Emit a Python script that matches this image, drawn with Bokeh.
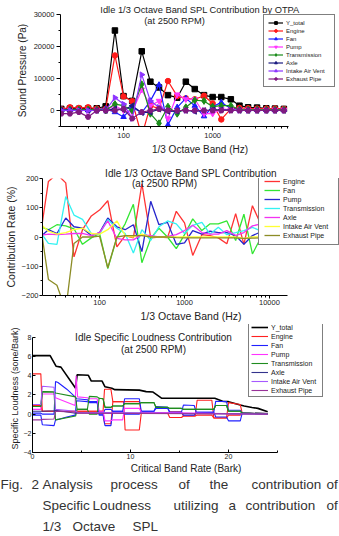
import numpy as np
from bokeh.plotting import figure
from bokeh.models import Range1d, FixedTicker, BasicTickFormatter, Legend, LegendItem, Label
from bokeh.layouts import column
from bokeh.embed import file_html
from bokeh.resources import INLINE
from bokeh.core.properties import value

FONT = "Liberation Sans"
TXT = "#222222"

# ---------------- data: plot 1 (sound pressure, Pa) ----------------
freq1 = [20, 25, 31.5, 40, 50, 63, 80, 100, 125, 160, 200, 250, 315, 400, 500, 630,
         800, 1000, 1250, 1600, 2000, 2500, 3150, 4000, 5000, 6300]
sp_total = [500, 600, 500, 600, 700, 1300, 25000, 4500, 3000, 18500, 9000, 7200, 4800, 4000,
            9000, 6700, 4800, 4200, 4200, 3500, 1500, 1000, 900, 700, 600, 500]
sp_engine = [400, 1000, 800, 1000, 600, 500, 17200, 4400, 2900, -8000, 1500, 600, 9200, 4500,
             3800, 3500, 4600, 2200, -2800, 500, 800, 700, 600, 600, 600, 500]
sp_fan = [200, 300, 200, 100, 300, 500, -500, -2000, 1000, -700, 3000, 8000, -4500, 1000,
          3800, 1500, -1800, 1200, 2500, 600, 300, 200, 200, 200, 200, 200]
sp_pump = [0, 0, 0, 0, 0, 0, 1500, 0, -500, 6500, 1500, 3000, -2500, 5000,
           3500, 3500, -1000, -1000, 500, 200, 200, 100, 100, 100, 100, 100]
sp_trans = [0, 200, 200, 300, 200, 0, 2000, 1500, 0, 8200, -1000, -4000, 1200, -1000,
            1000, 3200, 3000, 1200, 1500, 1500, 300, 200, 200, 200, 200, 200]
sp_axle = [0, 0, 0, 0, 0, 0, 500, 200, 1500, -700, -500, 400, -300, -200,
           0, -300, 0, 200, 200, 100, 0, 0, 0, 0, 0, 0]
sp_intake = [0, 0, 0, 0, 0, 0, 4000, 2000, -2500, 11200, 3000, 1000, 0, 0,
             0, 0, 0, 0, 0, 0, 0, 0, 0, 0, 0, 0]
sp_exhaust = [-1000, -1000, -500, -2000, 0, 0, 0, 500, -2500, -500, 0, 500, 0, 0,
              0, 0, 0, 0, 0, 0, 0, 0, 0, 0, 0, 0]

# ---------------- data: plot 2 (contribution rate, %) ----------------
freq2 = [20, 25, 31.5, 40, 50, 63, 80, 100, 125, 160, 200, 250, 315, 400, 500, 630,
         800, 1000, 1250, 1600, 2000, 2500, 3150, 4000, 5000, 6300, 8000]
cr_engine = [0, 190, 215, 185, -68, 25, 72, 92, 124, -34, 5, -3, 182, -3, 0, -2,
             88, 48, -63, 8, 5, -3, -23, 80, -25, 107, 40]
cr_fan = [35, 25, 42, 38, 28, -25, -3, 12, -108, -2, 45, 112, -88, -5, 30, 0,
          -40, 8, 62, 22, 45, 45, 55, -12, 78, -58, 0]
cr_pump = [0, 25, 12, 65, 35, 30, 5, 15, 65, 35, 25, 42, -50, 122, 42, 50,
           -25, -20, 22, 10, 20, 15, 15, 5, -25, 5, 18]
cr_trans = [18, -22, -25, 138, 75, 60, 12, 10, 60, 30, 12, -55, 25, -12, 35, 55,
            45, 12, 40, 50, 10, 33, 8, 15, 22, 33, 20]
cr_axle = [5, 10, 8, 10, 12, 12, 5, 15, 55, -5, -10, -10, 8, 5, 0, 2,
           8, 22, 40, 15, 10, 10, 22, 5, 15, 38, 45]
cr_intake = [45, 20, 10, 15, 25, 30, 12, 10, 25, 55, 5, 0, 10, 0, 0, 0,
             0, 0, 0, 0, 0, 0, 0, 0, -5, 0, 0]
cr_exhaust = [50, -145, -165, -250, -22, 0, 0, 3, -105, 0, 5, 5, 5, 0, 0, 0,
              -2, -3, -3, -3, -3, -3, -3, -3, -5, -4, -3]

# ---------------- data: plot 3 (specific loudness, sone/Bark) ----------------
bark_total = [0, 1.8, 2.4, 2.9, 4.4, 4.55, 5.7, 6.0, 7.1, 7.4, 8.1, 8.4, 10.9, 11.6, 12.3,
              13.2, 18.6, 19.4, 20.0, 21.2, 21.6, 22.4, 23.0, 24.0]
sl_total = [6.1, 6.1, 5.0, 4.9, 2.7, 4.1, 4.05, 3.45, 3.45, 2.85, 2.7, 2.55, 2.5, 2.35, 2.3,
            1.65, 1.65, 1.35, 1.3, 0.95, 0.85, 0.7, 0.6, 0.25]
bark_engine = [0, 0.85, 1.0, 7.2, 7.35, 8.0, 8.2, 9.3, 9.45, 10.9, 11.1, 13.8, 14.0, 15.2,
               15.4, 16.6, 16.8, 18.3, 18.5, 19.8, 20.0, 21.2, 21.4, 24]
sl_engine_hi = [4.2, 4.2, 0.3, 0.3, 2.6, 2.6, 1.3, 1.3, 1.3, 1.3, 0.1, 0.1, 0.25, 0.25,
                -0.2, -0.2, 1.45, 1.45, -0.4, -0.4, 1.2, 1.0, 0.1, 0.05]
sl_engine_lo = [0.9, 0.9, 0.3, 0.3, -1.0, -1.0, 1.3, 1.3, -1.65, -1.65, 0.1, 0.1, -0.35, -0.35,
                -0.2, -0.2, -0.1, -0.1, -0.4, -0.4, -0.1, -0.1, 0.1, 0.05]
bark_fan = [0, 0.85, 1.0, 2.2, 2.35, 2.6, 3.5, 4.35, 4.5, 5.6, 5.8, 6.6, 6.8, 7.2, 7.4, 8.0,
            8.2, 9.2, 9.4, 10.9, 11.1, 12.4, 12.6, 13.8, 14.0, 15.2, 15.4, 16.5, 16.7, 18.5,
            18.7, 19.8, 20.0, 21.2, 21.4, 24]
sl_fan_hi = [0.1, 0.1, 0.0, 0.0, 3.4, 3.3, 2.6, 1.8, 1.6, 1.5, 1.3, 1.3, 0.0, 0.0, 0.5, 0.5,
             0.3, 0.3, 1.6, 1.6, 0.3, 0.3, 0.8, 0.7, 0.2, 0.2, 0.95, 0.9, 0.2, 0.2,
             1.35, 1.3, 0.4, 0.4, 0.1, 0.05]
sl_fan_lo = [-0.1, -0.1, -1.1, -1.2, -0.6, -0.55, -0.3, -0.1, 1.4, 1.3, 1.2, 1.2, -0.1, -0.1, -1.2, -1.2,
             0.3, 0.3, 0.0, 0.0, 0.3, 0.3, 0.6, 0.6, 0.2, 0.2, -0.1, -0.1, 0.2, 0.2,
             -0.3, -0.3, -0.7, -0.7, 0.1, 0.05]
bark_pump = [0, 0.85, 1.0, 2.2, 2.35, 4.35, 4.45, 4.6, 5.6, 5.8, 6.6, 6.8, 7.2, 7.4, 8.0,
             8.2, 9.2, 9.4, 10.9, 11.1, 24]
sl_pump = [0.5, 0.5, 2.1, 2.1, 1.7, 0.9, 4.0, 1.8, 1.7, 1.6, 1.6, 0.3, 0.3, -0.7, -0.7,
           -0.6, -0.6, 0.6, 0.6, 0.2, 0.0]
bark_trans = [0, 0.85, 1.0, 2.2, 2.35, 4.4, 4.55, 5.6, 5.8, 6.6, 6.8, 7.2, 7.4, 8.0, 8.2, 9.2,
              9.4, 10.9, 11.1, 12.4, 12.6, 13.8, 14.0, 15.2, 15.4, 18.5, 18.7, 19.8, 20.0,
              21.2, 21.4, 24]
sl_trans_hi = [0.8, 0.8, 2.35, 2.3, 2.2, 1.8, 0.5, 0.5, 1.85, 1.8, 1.65, 1.6, 0.7, 0.7, 0.85, 0.85,
               1.1, 1.1, 1.2, 1.2, 0.7, 0.7, 0.6, 0.6, 0.5, 0.5, 0.9, 0.9, 0.3, 0.3, 0.1, 0.05]
sl_trans_lo = [0.8, 0.8, 2.35, 2.3, -0.6, -0.2, 0.5, 0.5, 0.0, 0.0, 1.65, 1.6, 0.7, 0.7, 0.85, 0.85,
               1.1, 1.1, 1.2, 1.2, 0.7, 0.7, 0.6, 0.6, 0.5, 0.5, 0.9, 0.9, 0.3, 0.3, 0.1, 0.05]
bark_axle = [0, 0.85, 1.0, 2.2, 2.35, 4.4, 4.6, 24]
sl_axle = [0.3, 0.3, 0.3, 0.35, 0.4, 0.1, 0.15, 0.0]
bark_intake = [0, 0.85, 1.0, 2.2, 2.35, 4.4, 4.6, 24]
sl_intake = [1.0, 1.0, 2.9, 2.8, 0.5, 0.3, 0.2, 0.0]
bark_exhaust = [0, 0.85, 1.0, 2.2, 2.35, 4.4, 4.6, 24]
sl_exhaust = [-0.6, -0.6, -0.55, -0.5, 0.3, 0.2, 0.1, 0.0]

names1 = ["Y_total", "Engine", "Fan", "Pump", "Transmission", "Axle", "Intake Air Vent", "Exhaust Pipe"]
names2 = ["Engine", "Fan", "Pump", "Transmission", "Axle", "Intake Air Vent", "Exhaust Pipe"]


def lin(px, p0, p1, v0, v1):
    return v0 + (px - p0) / (p1 - p0) * (v1 - v0)


def logmap(px, p0, p1, v0, v1):
    return 10 ** lin(px, p0, p1, np.log10(v0), np.log10(v1))


def no_align(p):
    if "frame_align" in p.properties():
        p.frame_align = False


def style(p, tick_fs, label_fs):
    p.outline_line_color = None
    p.grid.visible = False
    p.background_fill_color = "white"
    p.border_fill_color = "white"
    no_align(p)
    for ax in p.axis:
        ax.axis_line_color = "black"
        ax.major_tick_line_color = "black"
        ax.minor_tick_line_color = "black"
        ax.major_label_text_font = FONT
        ax.major_label_text_font_size = tick_fs
        ax.major_label_text_color = TXT
        ax.axis_label_text_font = FONT
        ax.axis_label_text_font_size = label_fs
        ax.axis_label_text_font_style = "normal"
        ax.axis_label_text_color = TXT


def head(p, text, fs, offset):
    # first title line, drawn in the panel above the frame
    p.title.text = text
    p.title.align = "center"
    p.title.offset = offset
    p.title.standoff = 0
    p.title.text_font = FONT
    p.title.text_font_size = fs
    p.title.text_font_style = "normal"
    p.title.text_color = TXT


def title(p, x, y, text, fs):
    p.add_layout(Label(x=x, y=y, text=text, text_align="center", text_baseline="middle",
                       text_font=FONT, text_font_size=fs, text_color=TXT))


def legend(p, items, loc, fs, lh, pad, gw, lw):
    lg = Legend(items=items, location=loc, orientation="vertical",
                label_text_font=FONT, label_text_font_size=fs, label_text_color=TXT,
                label_height=lh, glyph_height=lh, glyph_width=gw, label_width=lw,
                spacing=1, padding=pad, margin=0, label_standoff=3,
                border_line_color="black", border_line_width=1,
                background_fill_color="white", background_fill_alpha=1.0)
    p.add_layout(lg)


# ================= Plot 1 =================
X1 = (19.6, 7100)
Y1 = (-5000, 30000)
AX1L, AX1R, AX1T, AX1B = 60, 288, 14, 126
H1 = 160
# frame extended to the right edge so that the legend is not clipped
X1f = (X1[0], logmap(339, AX1L, AX1R, *X1))
p1 = figure(width=339, height=H1, x_axis_type="log", x_range=Range1d(*X1f), y_range=Range1d(*Y1),
            output_backend="svg", toolbar_location=None,
            min_border_left=AX1L, min_border_right=0, min_border_top=AX1T, min_border_bottom=H1 - AX1B)
style(p1, "7.5px", "10px")
head(p1, "Idle 1/3 Octave Band SPL Contribution by OTPA", "9.3px", 174 - (AX1L + 339) / 2)
p1.xaxis.axis_label = "1/3 Octave Band (Hz)"
p1.yaxis.axis_label = "Sound Pressure (Pa)"
p1.xaxis.bounds = X1
p1.yaxis.bounds = Y1
p1.xaxis.ticker = FixedTicker(ticks=[100, 1000],
                              minor_ticks=[30, 40, 50, 60, 70, 80, 90, 200, 300, 400, 500, 600, 700,
                                           800, 900, 2000, 3000, 4000, 5000, 6000, 7000])
p1.xaxis.formatter = BasicTickFormatter(use_scientific=False)
p1.yaxis.ticker = FixedTicker(ticks=[0, 10000, 20000, 30000], minor_ticks=[-5000, 5000, 15000, 25000])
p1.yaxis.formatter = BasicTickFormatter(use_scientific=False)
for ax in p1.axis:
    ax.major_tick_out = 4
    ax.major_tick_in = 0
    ax.minor_tick_out = 2
    ax.minor_tick_in = 0
    ax.major_label_standoff = 2
    ax.axis_label_standoff = 3

series1 = [sp_total, sp_engine, sp_fan, sp_pump, sp_trans, sp_axle, sp_intake, sp_exhaust]
colors1 = ["black", "#ff1a1a", "#1a1aff", "#ff33ff", "#1a8c1a", "#1a1a80", "#8c33ff", "#801a80"]
markers1 = ["square", "circle", "triangle", "inverted_triangle", "diamond", "triangle", "triangle", "hex"]
angles1 = [0, 0, 0, 0, 0, np.pi / 2, -np.pi / 2, 0]
items1 = []
for name, ys, c, m, a in zip(names1, series1, colors1, markers1, angles1):
    lr = p1.line(freq1, ys, line_color=c, line_width=1.2)
    sr = p1.scatter(freq1, ys, marker=m, size=5.5 if m != "diamond" else 7, angle=a,
                    fill_color=c, line_color=c)
    items1.append(LegendItem(label=name, renderers=[lr, sr]))
legend(p1, items1, (263 - AX1L, AX1B - 87), "6px", 7, 4, 15, 44)
title(p1, logmap(174, AX1L, AX1R, *X1), lin(20, AX1T, AX1B, Y1[1], Y1[0]), "(at 2500 RPM)", "9.3px")

# ================= Plot 2 =================
X2 = (21.3, 16300)
Y2 = (-200, 200)
OFF2, H2 = 160, 164
AX2L, AX2R, AX2T, AX2B = 42, 287, 178 - OFF2, 296 - OFF2
X2f = (X2[0], logmap(339, AX2L, AX2R, *X2))
p2 = figure(width=339, height=H2, x_axis_type="log", x_range=Range1d(*X2f), y_range=Range1d(*Y2),
            output_backend="svg", toolbar_location=None,
            min_border_left=AX2L, min_border_right=0, min_border_top=AX2T, min_border_bottom=H2 - AX2B)
style(p2, "7.5px", "10.5px")
head(p2, "Idle 1/3 Octave Band SPL Contribution", "10px", 164 - (AX2L + 339) / 2)
p2.xaxis.axis_label = "1/3 Octave Band (Hz)"
p2.yaxis.axis_label = "Contribution Rate (%)"
p2.xaxis.bounds = X2
p2.yaxis.bounds = Y2
p2.xaxis.ticker = FixedTicker(ticks=[100, 1000, 10000],
                              minor_ticks=[30, 40, 50, 60, 70, 80, 90, 200, 300, 400, 500, 600, 700,
                                           800, 900, 2000, 3000, 4000, 5000, 6000, 7000, 8000, 9000])
p2.xaxis.formatter = BasicTickFormatter(use_scientific=False)
p2.yaxis.ticker = FixedTicker(ticks=[-200, -100, 0, 100, 200], minor_ticks=[-150, -50, 50, 150])
p2.yaxis.formatter = BasicTickFormatter(use_scientific=False)
for ax in p2.axis:
    ax.major_tick_out = 3
    ax.major_tick_in = 0
    ax.minor_tick_out = 2
    ax.minor_tick_in = 0
    ax.major_label_standoff = 1
    ax.axis_label_standoff = 2

series2 = [cr_engine, cr_fan, cr_pump, cr_trans, cr_axle, cr_intake, cr_exhaust]
colors2 = ["#ff3333", "#33e633", "#2626cc", "#33f2f2", "#f233f2", "#ffff33", "#8c8c26"]
items2 = []
for name, ys, c in zip(names2, series2, colors2):
    r = p2.line(freq2, ys, line_color=c, line_width=1.3)
    items2.append(LegendItem(label=name, renderers=[r]))
legend(p2, items2, (258 - AX2L, AX2B + OFF2 - 246), "7px", 8, 5, 16, 50)
title(p2, logmap(164, AX2L, AX2R, *X2), lin(183 - OFF2, AX2T, AX2B, Y2[1], Y2[0]), "(at 2500 RPM)", "10px")

# ================= Plot 3 =================
X3 = (0, 25)
Y3 = (-4, 8)
OFF3, H3 = 324, 152
AX3L, AX3R, AX3T, AX3B = 32, 277, 337 - OFF3, 453 - OFF3
X3f = (X3[0], lin(339, AX3L, AX3R, *X3))
Y3f = (Y3[0], lin(0, AX3T, AX3B, Y3[1], Y3[0]))
p3 = figure(width=339, height=H3, x_range=Range1d(*X3f), y_range=Range1d(*Y3f),
            output_backend="svg", toolbar_location=None,
            min_border_left=AX3L, min_border_right=0, min_border_top=0, min_border_bottom=H3 - AX3B)
style(p3, "7px", "10px")
p3.yaxis.axis_label_text_font_size = "9px"
p3.xaxis.axis_label = "Critical Band Rate (Bark)"
p3.yaxis.axis_label = "Specific Loudness (sone/Bark)"
p3.xaxis.bounds = X3
p3.yaxis.bounds = Y3
p3.xaxis.ticker = FixedTicker(ticks=[0, 10, 20], minor_ticks=[5, 15, 25])
p3.yaxis.ticker = FixedTicker(ticks=[-4, -2, 0, 2, 4, 6, 8], minor_ticks=[])
for ax in p3.axis:
    ax.major_tick_out = 0
    ax.major_tick_in = 3
    ax.minor_tick_out = 0
    ax.minor_tick_in = 2
    ax.major_label_standoff = 1
    ax.axis_label_standoff = 1

items3 = []
r = p3.line(bark_total, sl_total, line_color="black", line_width=1.6)
items3.append(LegendItem(label="Y_total", renderers=[r]))
pairs3 = [
    ("Engine", bark_engine, sl_engine_hi, sl_engine_lo, "#ff2020"),
    ("Fan", bark_fan, sl_fan_hi, sl_fan_lo, "#2020ff"),
    ("Pump", bark_pump, sl_pump, None, "#ff33ff"),
    ("Transmission", bark_trans, sl_trans_hi, sl_trans_lo, "#1f8c1f"),
    ("Axle", bark_axle, sl_axle, None, "#33338c"),
    ("Intake Air Vent", bark_intake, sl_intake, None, "#a659ff"),
    ("Exhaust Pipe", bark_exhaust, sl_exhaust, None, "#993399"),
]
for name, xs, hi, lo, c in pairs3:
    r = p3.line(xs, hi, line_color=c, line_width=1.1)
    if lo is not None:
        p3.line(xs, lo, line_color=c, line_width=1.1)
    items3.append(LegendItem(label=name, renderers=[r]))
legend(p3, items3, (248 - AX3L, AX3B + OFF3 - 398), "7px", 8, 2, 17, 49)
title(p3, lin(153, AX3L, AX3R, *X3), lin(337 - OFF3, AX3T, AX3B, Y3[1], Y3[0]),
      "Idle Specific Loudness Contribution", "10px")
title(p3, lin(153, AX3L, AX3R, *X3), lin(349 - OFF3, AX3T, AX3B, Y3[1], Y3[0]), "(at 2500 RPM)", "10px")

# ================= Caption =================
OFF4, H4 = 476, 60
p4 = figure(width=339, height=H4, x_range=Range1d(0, 339), y_range=Range1d(OFF4 + H4, OFF4),
            output_backend="svg", toolbar_location=None, x_axis_location=None, y_axis_location=None,
            min_border_left=0, min_border_right=0, min_border_top=0, min_border_bottom=0)
p4.outline_line_color = None
p4.grid.visible = False
no_align(p4)
cap_words = ["Fig.", "2", "Analysis", "process", "of", "the", "contribution", "of",
             "Specific", "Loudness", "utilizing", "a", "contribution", "of",
             "1/3", "Octave", "SPL"]
cap_x = [0, 31, 42, 110, 178, 209, 251, 326,
         42, 92, 173, 228, 245, 326,
         42, 72, 132]
cap_y = [484] * 8 + [505] * 6 + [526] * 3
p4.text(x=cap_x, y=cap_y, text=cap_words, text_font=value(FONT), text_font_size=value("13.5px"),
        text_color="#333333", text_align="left", text_baseline="middle")

layout = column(p1, p2, p3, p4, spacing=0)
open("out.html", "w").write(file_html(layout, INLINE))
